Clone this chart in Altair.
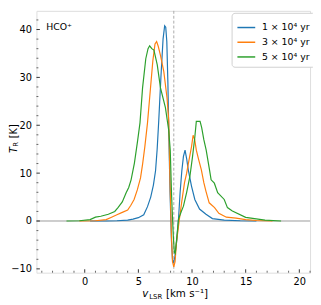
import altair as alt
import pandas as pd

# ---------------- data ----------------
labels = ["1 × 10⁴ yr", "3 × 10⁴ yr", "5 × 10⁴ yr"]
colors = ["#1f77b4", "#ff7f0e", "#2ca02c"]

v1 = [0.5, 2.0, 3.0, 4.0, 4.5, 5.0, 5.5, 5.85, 6.15, 6.4, 6.6, 6.75, 6.9, 7.1, 7.3, 7.45,
      7.55, 7.65, 7.75, 7.83, 7.95, 8.08, 8.18, 8.28, 8.4, 8.58, 8.74, 8.89, 9.05, 9.2, 9.35,
      9.5, 9.65, 9.95, 10.26, 10.7, 11.3, 11.9, 13.0, 14.5, 16.0]
T1 = [0.0, 0.0, 0.05, 0.2, 0.4, 0.7, 1.3, 3.0, 5.0, 7.5, 10.5, 15.0, 21.0, 30.0, 38.0, 40.8,
      40.5, 37.5, 29.0, 19.0, 6.0, -4.0, -8.0, -8.8, -7.5, -4.0, 0.4, 6.0, 10.5, 13.5, 14.8,
      13.0, 10.7, 7.3, 4.5, 2.5, 1.4, 0.5, 0.2, 0.05, 0.0]

v2 = [-0.5, 1.0, 2.0, 2.5, 3.0, 3.5, 4.0, 4.3, 4.6, 4.9, 5.2, 5.4, 5.6, 5.85, 6.1, 6.35, 6.55,
      6.7, 6.85, 7.06, 7.37, 7.67, 7.83, 7.95, 8.08, 8.18, 8.3, 8.42, 8.55, 8.8, 9.04, 9.3, 9.5,
      9.7, 9.95, 10.1, 10.25, 10.4, 10.6, 10.87, 11.1, 11.3, 11.6, 12.1, 12.5, 13.2, 14.1, 15.0,
      16.0, 17.5]
T2 = [0.0, 0.05, 0.3, 0.8, 1.3, 1.8, 2.3, 3.3, 4.5, 6.5, 9.0, 12.0, 15.5, 20.5, 27.0, 33.5, 37.0,
      37.5, 36.5, 34.6, 31.2, 25.7, 21.0, 8.0, -3.0, -8.5, -9.6, -8.5, -4.5, 0.0, 4.0, 8.0, 10.0,
      12.5, 15.5, 17.9, 17.0, 14.8, 13.0, 10.7, 8.0, 6.2, 3.8, 2.8, 1.6, 0.8, 0.6, 0.3,
      0.1, 0.0]

v3 = [-1.7, -0.5, 0.5, 1.0, 1.5, 2.2, 2.8, 3.1, 3.5, 3.86, 4.1, 4.32, 4.63, 4.93, 5.15, 5.39,
      5.69, 5.9, 6.05, 6.25, 6.45, 6.76, 7.06, 7.52, 7.83, 7.97, 8.1, 8.25, 8.35, 8.43, 8.6,
      8.74, 9.0, 9.2, 9.5, 9.8, 10.05, 10.26, 10.4, 10.75, 10.9, 11.1, 11.32, 11.63, 11.78,
      12.08, 12.39, 13.0, 13.3, 13.76, 15.0, 16.8, 18.3]
T3 = [0.0, 0.05, 0.3, 0.8, 1.0, 1.4, 2.0, 2.8, 4.0, 5.9, 7.0, 8.6, 12.1, 16.8, 20.5, 27.8,
      33.9, 36.0, 36.6, 36.0, 35.7, 32.6, 27.8, 23.7, 18.9, 14.8, 5.0, -3.0, -6.5, -6.8, -3.0,
      0.4, 2.0, 3.1, 6.0, 9.3, 13.5, 17.5, 20.8, 20.8, 19.5, 17.0, 14.8, 10.7, 8.6,
      7.9, 5.9, 4.5, 2.8, 2.1, 0.76, 0.2, 0.0]

v_center = 8.3
x_major = [0, 5, 10, 15, 20]
x_minor = [i for i in range(-4, 22) if i % 5 != 0]
y_major = [-10, 0, 10, 20, 30, 40]
y_minor = [i for i in range(-10, 44, 2) if i % 10 != 0]

x_domain = [-4.5, 21.0]
y_domain = [-10.8, 43.9]

# ---------------- frames ----------------
rows = []
for lab, vs, ts in zip(labels, [v1, v2, v3], [T1, T2, T3]):
    for a, b in zip(vs, ts):
        rows.append({"v": a, "T": b, "series": lab})
df = pd.DataFrame(rows)

W, H = 279, 267
FONT = "DejaVu Sans"

xs = alt.Scale(domain=x_domain, nice=False, zero=False)
ys = alt.Scale(domain=y_domain, nice=False, zero=False)
x_axis = alt.Axis(values=x_major, ticks=False, domain=False, grid=False, title=None,
                  labelFontSize=10, labelFont=FONT, labelColor="#000", labelPadding=4,
                  labelFlush=False)
y_axis = alt.Axis(values=y_major, ticks=False, domain=False, grid=False, title=None,
                  labelFontSize=10, labelFont=FONT, labelColor="#000", labelPadding=5)

lines = alt.Chart(df).mark_line(strokeWidth=1.2).encode(
    x=alt.X("v:Q", scale=xs, axis=x_axis),
    y=alt.Y("T:Q", scale=ys, axis=y_axis),
    color=alt.Color("series:N", scale=alt.Scale(domain=labels, range=colors),
                    legend=alt.Legend(title=None, orient="none", legendX=199, legendY=2,
                                      symbolType="stroke", symbolSize=330,
                                      symbolStrokeWidth=1.5, labelFont=FONT,
                                      labelFontSize=9.5, labelColor="#000", labelOffset=6,
                                      rowPadding=-2, padding=5, fillColor="white",
                                      strokeColor="#d0d0d0", cornerRadius=3)),
    order=alt.Order("v:Q"),
)

zero_line = alt.Chart(pd.DataFrame({"T": [0]})).mark_rule(color="#9a9a9a", strokeWidth=1).encode(
    y=alt.Y("T:Q", scale=ys))
center_line = alt.Chart(pd.DataFrame({"v": [v_center]})).mark_rule(
    color="#aaaaaa", strokeWidth=1, strokeDash=[3, 2]).encode(x=alt.X("v:Q", scale=xs))

xt_major = alt.Chart(pd.DataFrame({"v": x_major})).mark_rule(color="#000", strokeWidth=0.8).encode(
    x=alt.X("v:Q", scale=xs), y=alt.value(H), y2=alt.value(H - 3.5))
xt_minor = alt.Chart(pd.DataFrame({"v": x_minor})).mark_rule(color="#000", strokeWidth=0.6).encode(
    x=alt.X("v:Q", scale=xs), y=alt.value(H), y2=alt.value(H - 2))
yt_major = alt.Chart(pd.DataFrame({"T": y_major})).mark_rule(color="#000", strokeWidth=0.8).encode(
    y=alt.Y("T:Q", scale=ys), x=alt.value(0), x2=alt.value(3.5))
yt_minor = alt.Chart(pd.DataFrame({"T": y_minor})).mark_rule(color="#000", strokeWidth=0.6).encode(
    y=alt.Y("T:Q", scale=ys), x=alt.value(0), x2=alt.value(2))

one = pd.DataFrame({"a": [0]})


def txt(s, x, y, size, italic=False, angle=0, align="left"):
    kw = dict(align=align, baseline="middle", fontSize=size, font=FONT, color="#000")
    if italic:
        kw["fontStyle"] = "italic"
    if angle:
        kw["angle"] = angle
    return alt.Chart(one).mark_text(**kw).encode(
        x=alt.value(x), y=alt.value(y), text=alt.value(s))


texts = [
    txt("HCO⁺", 10, 17, 9.5),
    # x title
    txt("v", 108, 289, 10.5, italic=True),
    txt("LSR", 115, 291.5, 7),
    txt("[km s⁻¹]", 132, 289, 10.5),
    # y title (rotated)
    txt("T", -22.5, 145, 10, italic=True, angle=270),
    txt("R", -20.5, 138.5, 7, angle=270),
    txt("[K]", -22.5, 130, 10, angle=270),
]

chart = alt.layer(center_line, zero_line, lines, xt_major, xt_minor, yt_major, yt_minor,
                  *texts).properties(
    width=W, height=H,
    autosize=alt.AutoSizeParams(type="none"),
    padding={"left": 29, "top": 0, "right": 3, "bottom": 29},
).configure_view(stroke="#222", strokeWidth=1.1).configure(background="white")

chart.save("out.html", embed_options={"renderer": "svg", "actions": False})
